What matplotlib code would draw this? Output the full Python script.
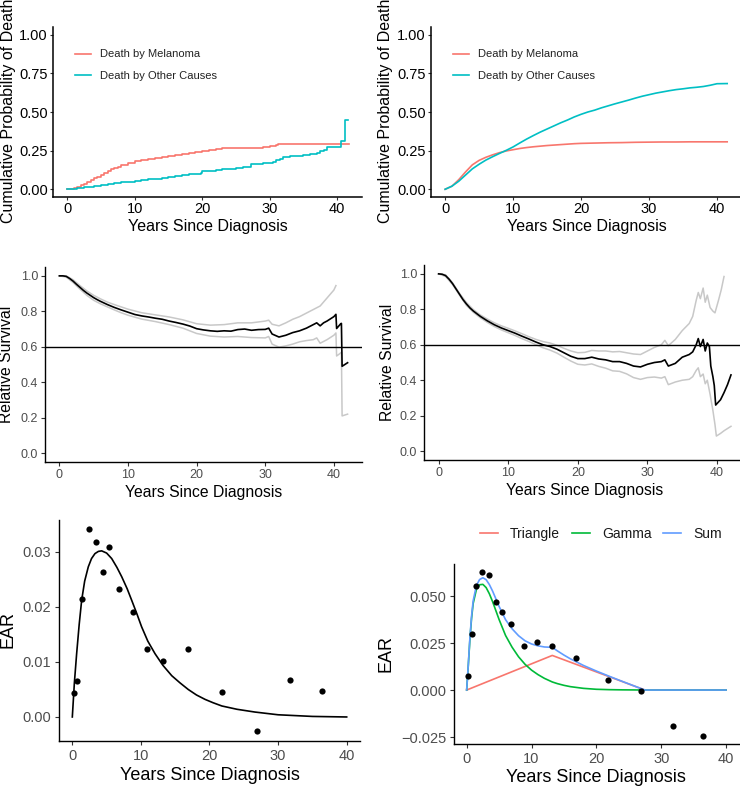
import matplotlib
matplotlib.use("Agg")
import matplotlib.pyplot as plt
import numpy as np

plt.rcParams['font.family'] = ['Liberation Sans', 'DejaVu Sans']

# ---------------- data ----------------
# Panel A (top-left): cumulative incidence, step functions
tl_mel_t = [0, 0.5, 1, 1.5, 2, 2.5, 3, 3.5, 4, 4.5, 5, 5.5, 6, 6.5, 7, 7.5, 8, 9, 10, 11, 12, 13, 14, 15,
            16, 17, 18, 19, 20, 21, 22, 23, 25, 27, 29, 30, 31, 31.2, 41.7]
tl_mel_v = [0, 0.003, 0.008, 0.015, 0.025, 0.037, 0.047, 0.058, 0.070, 0.080, 0.092, 0.105, 0.118, 0.128,
            0.138, 0.147, 0.155, 0.168, 0.180, 0.188, 0.195, 0.201, 0.207, 0.213, 0.219, 0.226, 0.232, 0.238,
            0.246, 0.253, 0.260, 0.265, 0.267, 0.270, 0.275, 0.280, 0.284, 0.293, 0.293]
tl_oth_t = [0, 1, 1.5, 2, 2.5, 3, 4, 5, 6, 7, 8, 9, 10, 11, 12, 13, 14, 15, 16, 17, 18, 19, 19.8, 20, 21, 22,
            23, 24, 25, 26, 27, 27.3, 28, 29, 30, 30.5, 31, 31.5, 32, 33, 34, 35, 36, 37, 37.5, 38, 38.5,
            40.5, 41.2, 41.6]
tl_oth_v = [0, 0.002, 0.005, 0.008, 0.012, 0.016, 0.022, 0.028, 0.034, 0.039, 0.044, 0.049, 0.056, 0.060,
            0.064, 0.068, 0.072, 0.077, 0.084, 0.090, 0.097, 0.102, 0.108, 0.116, 0.120, 0.124, 0.129, 0.133,
            0.138, 0.142, 0.145, 0.162, 0.165, 0.168, 0.173, 0.178, 0.187, 0.198, 0.212, 0.213, 0.216, 0.220,
            0.228, 0.235, 0.245, 0.255, 0.272, 0.312, 0.445, 0.445]

# Panel B (top-right): smooth cumulative incidence
tr_t = [0, 1, 2, 3, 4, 5, 6, 7, 8, 9, 10, 11, 12, 13, 14, 15, 16, 17, 18, 19, 20, 21, 22, 23, 24, 25, 26,
        27, 28, 29, 30, 31, 32, 33, 34, 35, 36, 37, 38, 39, 40, 41.5]
tr_mel = [0, 0.02, 0.062, 0.112, 0.158, 0.187, 0.207, 0.223, 0.237, 0.248, 0.256, 0.264, 0.270, 0.275, 0.279,
          0.283, 0.286, 0.289, 0.292, 0.295, 0.297, 0.298, 0.299, 0.300, 0.301, 0.3015, 0.302, 0.303, 0.304,
          0.3045, 0.305, 0.3055, 0.306, 0.306, 0.306, 0.3065, 0.307, 0.307, 0.307, 0.307, 0.307, 0.307]
tr_oth = [0, 0.02, 0.052, 0.092, 0.132, 0.162, 0.189, 0.211, 0.232, 0.252, 0.274, 0.300, 0.325, 0.348, 0.370,
          0.390, 0.410, 0.430, 0.448, 0.468, 0.485, 0.500, 0.512, 0.527, 0.540, 0.553, 0.565, 0.577, 0.590,
          0.602, 0.612, 0.622, 0.630, 0.638, 0.645, 0.650, 0.656, 0.660, 0.665, 0.673, 0.683, 0.684]

# Panel C (middle-left): relative survival with CI
ml_t = [0, 0.5, 1, 1.5, 2, 2.5, 3, 3.5, 4, 4.5, 5, 5.5, 6, 7, 8, 9, 10, 11, 12, 13, 14, 15, 16, 17, 18, 19,
        20, 21, 22, 23, 24, 25, 26, 27, 28, 29, 30, 30.5, 31, 32, 33, 34, 35, 36, 37, 37.5, 38, 38.5, 39,
        40, 40.3, 40.4, 41, 41.1, 41.2, 42]
ml_rs = [1.0, 1.0, 0.997, 0.985, 0.970, 0.952, 0.935, 0.918, 0.903, 0.890, 0.877, 0.866, 0.856, 0.838,
         0.822, 0.808, 0.795, 0.782, 0.774, 0.768, 0.761, 0.755, 0.745, 0.737, 0.728, 0.717, 0.702, 0.695,
         0.690, 0.687, 0.690, 0.688, 0.697, 0.700, 0.693, 0.697, 0.698, 0.705, 0.672, 0.655, 0.665, 0.680,
         0.690, 0.705, 0.725, 0.735, 0.718, 0.735, 0.745, 0.770, 0.783, 0.703, 0.730, 0.732, 0.490, 0.510]
ml_up_t = [0, 1, 2, 3, 4, 5, 6, 7, 8, 9, 10, 12, 14, 16, 18, 20, 22, 24, 26, 28, 30, 30.5, 31, 32, 33, 34,
           35, 36, 37, 38, 39, 40, 40.3]
ml_up = [1.0, 1.0, 0.978, 0.945, 0.915, 0.890, 0.870, 0.852, 0.838, 0.825, 0.812, 0.792, 0.780, 0.768,
         0.752, 0.730, 0.722, 0.725, 0.735, 0.735, 0.745, 0.750, 0.727, 0.718, 0.735, 0.755, 0.770, 0.790,
         0.810, 0.830, 0.875, 0.920, 0.945]
ml_lo_t = [0, 1, 2, 3, 4, 5, 6, 7, 8, 9, 10, 12, 14, 16, 18, 20, 22, 24, 26, 28, 30, 30.5, 31, 32, 33, 34,
           35, 36, 37, 37.5, 38, 39, 40, 40.3, 40.4, 41, 41.1, 41.2, 42]
ml_lo = [1.0, 0.993, 0.962, 0.925, 0.890, 0.862, 0.842, 0.825, 0.808, 0.792, 0.778, 0.756, 0.742, 0.725,
         0.705, 0.675, 0.660, 0.655, 0.658, 0.652, 0.650, 0.658, 0.615, 0.598, 0.605, 0.615, 0.628, 0.635,
         0.640, 0.650, 0.620, 0.640, 0.665, 0.678, 0.548, 0.565, 0.570, 0.210, 0.220]

# Panel D (middle-right)
mr_t = [0, 0.5, 1, 1.5, 2, 2.5, 3, 3.5, 4, 4.5, 5, 5.5, 6, 7, 8, 9, 10, 11, 12, 13, 14, 15, 16, 17, 18, 19,
        20, 21, 22, 23, 24, 25, 26, 27, 28, 29, 30, 31, 32, 32.5, 33, 34, 35, 36, 36.5, 37, 37.3, 37.6, 38,
        38.3, 38.6, 38.9, 39.1, 39.4, 39.6, 39.8, 40.5, 41, 41.5, 42]
mr_rs = [1.0, 0.998, 0.990, 0.970, 0.945, 0.915, 0.885, 0.855, 0.830, 0.808, 0.790, 0.775, 0.760, 0.735,
         0.713, 0.695, 0.680, 0.665, 0.648, 0.632, 0.615, 0.600, 0.590, 0.575, 0.555, 0.535, 0.522, 0.522,
         0.530, 0.520, 0.515, 0.505, 0.505, 0.495, 0.480, 0.475, 0.490, 0.500, 0.505, 0.515, 0.480, 0.495,
         0.530, 0.545, 0.560, 0.600, 0.635, 0.590, 0.630, 0.565, 0.610, 0.590, 0.480, 0.420, 0.370, 0.260,
         0.290, 0.330, 0.375, 0.430]
mr_up_t = [0, 1, 2, 3, 4, 5, 6, 7, 8, 9, 10, 11, 12, 13, 14, 15, 16, 17, 18, 19, 20, 21, 22, 23, 24, 25, 26,
           27, 28, 29, 30, 31, 32, 32.5, 33, 34, 35, 36, 36.5, 37, 37.3, 37.6, 38, 38.3, 38.6, 39, 39.4, 39.7,
           40.2, 40.6, 41]
mr_up = [1.0, 0.995, 0.950, 0.890, 0.838, 0.798, 0.768, 0.745, 0.724, 0.707, 0.693, 0.678, 0.662, 0.645,
         0.630, 0.618, 0.610, 0.597, 0.580, 0.565, 0.555, 0.557, 0.568, 0.565, 0.565, 0.560, 0.562, 0.555,
         0.548, 0.545, 0.565, 0.585, 0.600, 0.625, 0.595, 0.630, 0.680, 0.720, 0.760, 0.850, 0.895, 0.860,
         0.920, 0.840, 0.880, 0.810, 0.790, 0.780, 0.850, 0.910, 0.985]
mr_lo_t = [0, 1, 2, 3, 4, 5, 6, 7, 8, 9, 10, 11, 12, 13, 14, 15, 16, 17, 18, 19, 20, 21, 22, 23, 24, 25, 26,
           27, 28, 29, 30, 31, 32, 32.5, 33, 34, 35, 36, 36.5, 37, 37.3, 37.6, 38, 38.3, 38.6, 39, 39.4, 39.7,
           39.9, 40.5, 41, 42]
mr_lo = [1.0, 0.985, 0.940, 0.880, 0.822, 0.783, 0.752, 0.726, 0.703, 0.684, 0.668, 0.652, 0.634, 0.618,
         0.600, 0.583, 0.570, 0.553, 0.530, 0.508, 0.490, 0.486, 0.492, 0.478, 0.468, 0.453, 0.450, 0.436,
         0.415, 0.405, 0.415, 0.418, 0.412, 0.420, 0.375, 0.390, 0.400, 0.405, 0.420, 0.455, 0.470, 0.420,
         0.435, 0.380, 0.400, 0.320, 0.230, 0.150, 0.085, 0.100, 0.115, 0.140]

# Panel E/F: EAR points (shared times)
ear_t = [0.22, 0.75, 1.43, 2.43, 3.45, 4.45, 5.42, 6.85, 8.87, 10.87, 13.2, 16.8, 21.8, 26.9, 31.8, 36.4]
ear_left = [0.0044, 0.0066, 0.0214, 0.0341, 0.0318, 0.0264, 0.0309, 0.0232, 0.0190, 0.0123, 0.0102,
            0.0124, 0.0045, -0.0026, 0.0067, 0.0048]
ear_right = [0.0073, 0.0296, 0.0555, 0.0629, 0.0612, 0.0466, 0.0413, 0.0349, 0.0234, 0.0255, 0.0234,
             0.0168, 0.0051, -0.0007, -0.0191, -0.0243]

# Panel E fitted curve
fitL_t = [0, 0.3, 0.63, 1.0, 1.36, 1.8, 2.33, 2.8, 3.3, 3.8, 4.28, 5.0, 5.74, 6.5, 7.2, 8.0, 8.66, 9.4, 10.1,
          11.0, 12.06, 13.2, 14.5, 15.7, 16.9, 18.1, 19.35, 20.5, 21.8, 24.0, 26.6, 30, 35, 40]
fitL_v = [0.0, 0.0062, 0.0115, 0.0168, 0.0212, 0.0247, 0.0273, 0.0288, 0.0297, 0.0301, 0.0302, 0.0298,
          0.0288, 0.0272, 0.0255, 0.0233, 0.0212, 0.0188, 0.0164, 0.0138, 0.0115, 0.0094, 0.0075, 0.0062,
          0.0050, 0.0040, 0.0032, 0.0026, 0.0020, 0.0014, 0.0009, 0.0004, 0.0001, 0.0]

# Panel F fitted components
tri_t = [0, 13.2, 27.5, 40]
tri_v = [0, 0.0184, 0, 0]
comp_t = [0, 0.25, 0.5, 0.75, 1, 1.5, 2, 2.5, 3, 3.5, 4, 5, 6, 7, 8, 9, 10, 11, 12, 13.2, 14, 15, 16, 18, 20,
          22, 24, 26, 27.5, 30, 35, 40]
gam_v = [0, 0.013, 0.027, 0.038, 0.046, 0.0535, 0.0560, 0.0562, 0.0545, 0.0512, 0.0470, 0.0375, 0.0290,
         0.0228, 0.0177, 0.0137, 0.0106, 0.0082, 0.0062, 0.0043, 0.0034, 0.0025, 0.0018, 0.0009, 0.0004,
         0.0002, 0.0001, 0.00005, 0, 0, 0, 0]
sum_v = [0, 0.0134, 0.0277, 0.0391, 0.0474, 0.0556, 0.0588, 0.0597, 0.0587, 0.0561, 0.0526, 0.0445, 0.0374,
         0.0326, 0.0289, 0.0262, 0.0245, 0.0235, 0.0229, 0.0227, 0.0208, 0.0186, 0.0166, 0.0131, 0.0101,
         0.0073, 0.0046, 0.00195, 0, 0, 0, 0]

xticks = [0, 10, 20, 30, 40]
RED = '#F8766D'
CYAN = '#00BFC4'
GREEN = '#00BA38'
BLUE = '#619CFF'
CI_GREY = '#C8C8C8'
TICK_GREY = '#4D4D4D'

W, H = 740, 788
fig = plt.figure(figsize=(W / 100, H / 100), dpi=100)


def add_ax(x0, x1, ytop, ybot):
    return fig.add_axes([x0 / W, 1 - ybot / H, (x1 - x0) / W, (ybot - ytop) / H])


def style(ax, tick_color, axis_lw=1.0, tick_size=10, tick_len=2.9, pad=2.0):
    for s in ['top', 'right']:
        ax.spines[s].set_visible(False)
    for s in ['left', 'bottom']:
        ax.spines[s].set_linewidth(axis_lw)
        ax.spines[s].set_color('black')
    ax.tick_params(axis='both', length=tick_len, width=0.8, color='#333333', labelcolor=tick_color,
                   labelsize=tick_size, pad=pad)
    ax.set_xticks(xticks)


def place_labels(ax, rect, xlab_y, ylab_x, ylab_y, xlab, ylab, size):
    x0, x1, ytop, ybot = rect
    ax.set_xlabel(xlab, fontsize=size, va='center')
    ax.xaxis.set_label_coords(0.5, (ybot - xlab_y) / (ybot - ytop))
    ax.set_ylabel(ylab, fontsize=size, va='center')
    ax.yaxis.set_label_coords((ylab_x - x0) / (x1 - x0), (ybot - ylab_y) / (ybot - ytop))


# ---- top-left
r = (53, 362, 27, 197)
ax = add_ax(*r)
ax.plot(tl_mel_t, tl_mel_v, drawstyle='steps-post', color=RED, lw=1.2, label='Death by Melanoma')
ax.plot(tl_oth_t, tl_oth_v, drawstyle='steps-post', color=CYAN, lw=1.2, label='Death by Other Causes')
ax.set_xlim(-2.08, 43.68)
ax.set_ylim(-0.05, 1.05)
ax.set_yticks([0, 0.25, 0.5, 0.75, 1.0])
ax.set_yticklabels(['0.00', '0.25', '0.50', '0.75', '1.00'])
style(ax, 'black', 1.1, 10.5, 2.5, 1.2)
place_labels(ax, r, 227, 9, 111, 'Years Since Diagnosis', 'Cumulative Probability of Death', 11.5)
ax.legend(loc='upper left', bbox_to_anchor=((71 - 53) / 309, (197 - 45) / 170), frameon=False,
          fontsize=8, handlelength=1.4, handletextpad=0.8, labelspacing=1.05, borderaxespad=0,
          labelcolor='#222222')

# ---- top-right
r = (431, 742, 27, 197)
ax = add_ax(*r)
ax.plot(tr_t, tr_mel, color=RED, lw=1.2, label='Death by Melanoma')
ax.plot(tr_t, tr_oth, color=CYAN, lw=1.2, label='Death by Other Causes')
ax.set_xlim(-2.08, 43.68)
ax.set_ylim(-0.05, 1.05)
ax.set_yticks([0, 0.25, 0.5, 0.75, 1.0])
ax.set_yticklabels(['0.00', '0.25', '0.50', '0.75', '1.00'])
style(ax, 'black', 1.1, 10.5, 2.5, 1.2)
place_labels(ax, r, 227, 385, 111, 'Years Since Diagnosis', 'Cumulative Probability of Death', 11.5)
ax.legend(loc='upper left', bbox_to_anchor=((449 - 431) / 311, (197 - 45) / 170), frameon=False,
          fontsize=8, handlelength=1.4, handletextpad=0.8, labelspacing=1.05, borderaxespad=0,
          labelcolor='#222222')

# ---- middle-left
r = (45, 362, 267, 462)
ax = add_ax(*r)
ax.plot(ml_up_t, ml_up, color=CI_GREY, lw=1.1)
ax.plot(ml_lo_t, ml_lo, color=CI_GREY, lw=1.1)
ax.plot(ml_t, ml_rs, color='black', lw=1.2)
ax.axhline(0.6, color='black', lw=1.0)
ax.set_xlim(-2.1, 44.1)
ax.set_ylim(-0.05, 1.05)
ax.set_yticks([0, 0.2, 0.4, 0.6, 0.8, 1.0])
ax.set_yticklabels(['0.0', '0.2', '0.4', '0.6', '0.8', '1.0'])
style(ax, TICK_GREY, 1.0, 9, 3.0, 1.9)
place_labels(ax, r, 492, 7, 364, 'Years Since Diagnosis', 'Relative Survival', 11.3)

# ---- middle-right
r = (424, 745.6, 265, 460)
ax = add_ax(*r)
ax.plot(mr_up_t, mr_up, color=CI_GREY, lw=1.1)
ax.plot(mr_lo_t, mr_lo, color=CI_GREY, lw=1.1)
ax.plot(mr_t, mr_rs, color='black', lw=1.2)
ax.axhline(0.6, color='black', lw=1.0)
ax.set_xlim(-2.1, 44.1)
ax.set_ylim(-0.05, 1.05)
ax.set_yticks([0, 0.2, 0.4, 0.6, 0.8, 1.0])
ax.set_yticklabels(['0.0', '0.2', '0.4', '0.6', '0.8', '1.0'])
style(ax, TICK_GREY, 1.0, 9, 3.0, 1.9)
place_labels(ax, r, 490, 387, 362, 'Years Since Diagnosis', 'Relative Survival', 11.3)

# ---- bottom-left
r = (58.6, 360.4, 519.5, 741.4)
ax = add_ax(*r)
ax.plot(fitL_t, fitL_v, color='black', lw=1.2)
ax.scatter(ear_t, ear_left, s=20, color='black', zorder=3, linewidths=0)
ax.set_xlim(-2, 42)
ax.set_ylim(-0.00444, 0.0359)
ax.set_yticks([0, 0.01, 0.02, 0.03])
ax.set_yticklabels(['0.00', '0.01', '0.02', '0.03'])
style(ax, TICK_GREY, 1.0, 10.5, 3.0, 2.5)
place_labels(ax, r, 775, 8, 630, 'Years Since Diagnosis', 'EAR', 13)

# ---- bottom-right
r = (453.7, 739, 563.5, 744)
ax = add_ax(*r)
ax.plot(tri_t, tri_v, color=RED, lw=1.2, label='Triangle')
ax.plot(comp_t, gam_v, color=GREEN, lw=1.2, label='Gamma')
ax.plot(comp_t, sum_v, color=BLUE, lw=1.2, label='Sum')
ax.scatter(ear_t, ear_right, s=20, color='black', zorder=3, linewidths=0)
ax.set_xlim(-2, 42)
ax.set_ylim(-0.0287, 0.0673)
ax.set_yticks([-0.025, 0, 0.025, 0.05])
ax.set_yticklabels(['\u22120.025', '0.000', '0.025', '0.050'])
style(ax, TICK_GREY, 1.0, 10.5, 3.0, 2.5)
place_labels(ax, r, 778, 386, 654, 'Years Since Diagnosis', 'EAR', 13)
leg = ax.legend(loc='center', bbox_to_anchor=((601 - 453.7) / 285.3, (744 - 534) / 180.5), ncol=3,
                frameon=False, fontsize=10, handlelength=1.3, handletextpad=0.85, columnspacing=0.85,
                labelcolor='#1a1a1a', borderaxespad=0)

fig.savefig('out.png', dpi=100)
